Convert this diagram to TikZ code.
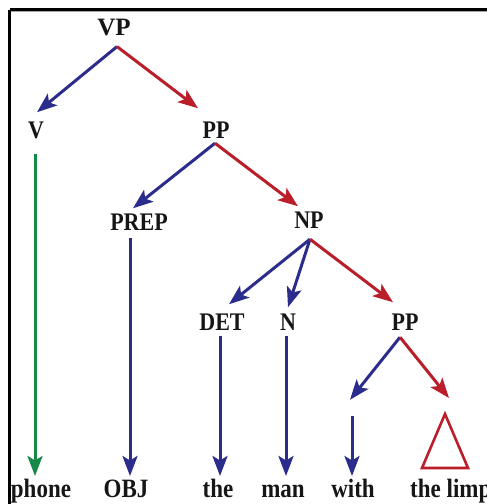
\documentclass[tikz,border=0pt]{standalone}
\usepackage{fontspec}
\usepackage{graphicx}
\setmainfont{Liberation Serif}
\usetikzlibrary{arrows.meta}

\definecolor{treeblue}{RGB}{44,44,140}
\definecolor{treered}{RGB}{186,30,42}
\definecolor{treegreen}{RGB}{22,136,72}
\definecolor{ink}{RGB}{22,22,22}

% category and word labels: bold serif, slightly tall
\newcommand{\tall}[1]{\scalebox{1}[1.15]{#1}}

\tikzset{
  lab/.style={inner sep=0pt, anchor=base, text=ink,
              font=\fontsize{22}{26}\selectfont\bfseries},
  wordlab/.style={lab, font=\fontsize{23}{27}\selectfont\bfseries},
  toplab/.style={lab, font=\fontsize{25}{29}\selectfont\bfseries},
  branch/.style={line width=3pt,
                 -{Stealth[length=20pt,width=15pt,inset=4.5pt]}},
  left branch/.style={branch, draw=treeblue, fill=treeblue},
  right branch/.style={branch, draw=treered, fill=treered},
  lex/.style={branch, draw=treeblue, fill=treeblue},
  lexverb/.style={branch, draw=treegreen, fill=treegreen},
  frame/.style={line width=2.6pt, draw=black},
  roof/.style={draw=treered, line width=2.6pt, line join=miter}
}

\begin{document}
\begin{tikzpicture}[x=1pt,y=-1pt]
  \useasboundingbox (0,0) rectangle (487,504);
  \clip (0,0) rectangle (487,504);
  \fill[white] (0,0) rectangle (487,504);

  % frame along the top and left edges
  \draw[line width=1pt, draw=black!35] (11,11.2) -- (487,11.2);
  \draw[frame] (9.5,9.5) -- (487,9.5);
  \draw[frame] (9.5,9.5) -- (9.5,504);

  % category nodes
  \node[toplab] (VP)   at (114,35)  {VP};
  \node[lab]    (V)    at (36,138)  {\tall{V}};
  \node[lab]    (PP1)  at (216,138) {\tall{PP}};
  \node[lab]    (PREP) at (139,230) {\tall{PREP}};
  \node[lab]    (NP)   at (309,228) {\tall{NP}};
  \node[lab]    (DET)  at (222,330) {\tall{DET}};
  \node[lab]    (N)    at (288,330) {\tall{N}};
  \node[lab]    (PP2)  at (405,330) {\tall{PP}};
  \node[inner sep=0pt, minimum height=16pt, minimum width=4pt] (W0) at (352,408) {};

  % words
  \node[wordlab] (phone) at (41,497)  {\tall{phone}};
  \node[wordlab] (OBJ)   at (126,497) {\tall{OBJ}};
  \node[wordlab] (the)   at (218,497) {\tall{the}};
  \node[wordlab] (man)   at (283,497) {\tall{man}};
  \node[wordlab] (with)  at (353,497) {\tall{with}};
  \node[wordlab, anchor=base west] (limp) at (410,497) {\tall{the limp}};

  % level where the word arrows end
  \coordinate (tips) at (0,476);

  % branches
  \draw[left branch]  ([xshift=3pt,yshift=-11pt]VP.south) -- ([xshift=1pt,yshift=9pt]V.north);
  \draw[right branch] ([xshift=3pt,yshift=-11pt]VP.south) -- ([xshift=-18pt,yshift=13pt]PP1.north);

  \draw[left branch]  ([xshift=-1pt,yshift=-5pt]PP1.south) -- ([xshift=-6pt,yshift=5pt]PREP.north);
  \draw[right branch] ([xshift=-1pt,yshift=-5pt]PP1.south) -- ([xshift=-11pt,yshift=5pt]NP.north);

  \draw[left branch]  ([xshift=1pt,yshift=-11pt]NP.south) -- ([xshift=7pt,yshift=9pt]DET.north);
  \draw[left branch]  ([xshift=1pt,yshift=-11pt]NP.south) -- ([yshift=6pt]N.north);
  \draw[right branch] ([xshift=1pt,yshift=-11pt]NP.south) -- ([xshift=-12pt,yshift=11pt]PP2.north);

  % roof over "the limp"
  \coordinate (roof) at (445,414);
  \draw[roof] (roof) -- ++(-23,54) -- ++(46,0) -- cycle;

  \draw[left branch]  ([xshift=-5pt,yshift=-7pt]PP2.south) -- ([xshift=-2pt]W0.north);
  \draw[right branch] ([xshift=-5pt,yshift=-7pt]PP2.south) -- ([xshift=4pt,yshift=16pt]roof);

  % lexical arrows down to the words
  \coordinate (Vfoot)    at ([xshift=-1pt,yshift=-15pt]V.south);
  \coordinate (PREPfoot) at ([xshift=-9pt,yshift=-8pt]PREP.south);
  \coordinate (DETfoot)  at ([xshift=-2pt,yshift=-6pt]DET.south);
  \coordinate (Nfoot)    at ([xshift=-2pt,yshift=-6pt]N.south);

  \draw[lexverb] (Vfoot) -- (Vfoot |- tips);
  \draw[lex] (PREPfoot) -- (PREPfoot |- tips);
  \draw[lex] (DETfoot) -- (DETfoot |- tips);
  \draw[lex] (Nfoot) -- (Nfoot |- tips);
  \draw[lex] (W0.south) -- (W0.south |- tips);
\end{tikzpicture}
\end{document}
